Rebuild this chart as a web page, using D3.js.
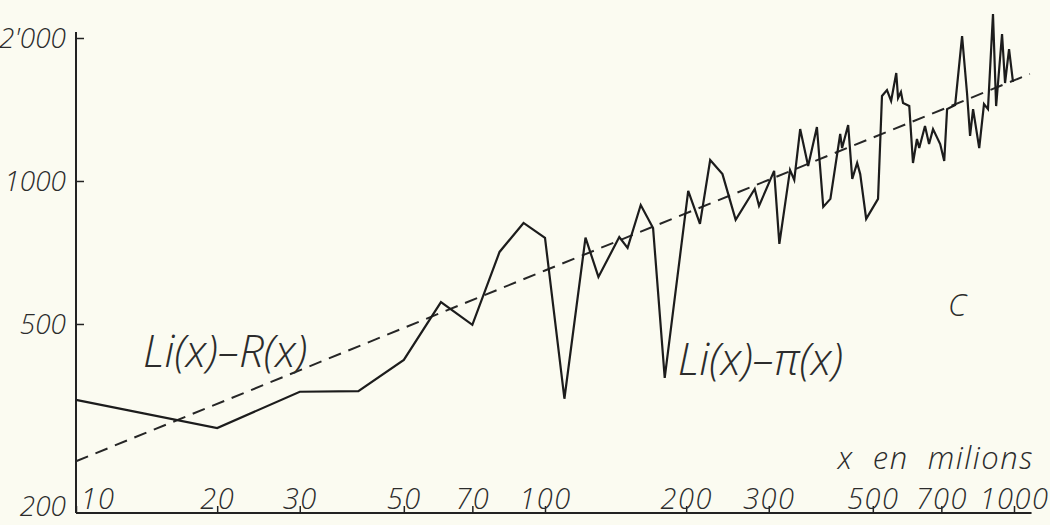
<!DOCTYPE html>
<meta charset="utf-8">
<style>
  body { margin: 0; background: #fbfbf1; }
  svg text {
    font-family: "Open Sans", "DejaVu Sans", sans-serif;
    font-style: italic;
    font-weight: 300;
    fill: #2c2c2c;
    white-space: pre;
  }
</style>

<div id="chart"></div>

<script src="https://d3js.org/d3.v7.min.js"></script>
<script>

    // Li(x) - pi(x), x in millions
    const piX = [10, 20, 30, 40, 50, 60, 70, 80, 90, 100,
                 110, 122, 130, 144, 150, 160, 170, 180, 202, 214,
                 225, 239, 255, 280, 286, 308, 316, 333, 340, 350,
                 364, 380, 392, 406, 426, 430, 443, 452, 463, 470,
                 484, 513, 523, 536, 547, 561, 566, 574, 580, 598,
                 609, 621, 628, 646, 659, 672, 696, 710, 720, 749,
                 775, 794, 806, 818, 843, 863, 880, 902, 916, 943,
                 957, 976, 995];
    const piY = [346, 302, 360, 361, 420, 556, 498, 709, 816, 759,
                 348, 760, 628, 762, 723, 890, 796, 385, 953, 812,
                 1107, 1034, 828, 962, 886, 1050, 737, 1055, 1005, 1286,
                 1075, 1299, 882, 917, 1256, 1173, 1312, 1010, 1091, 1034,
                 832, 917, 1510, 1554, 1474, 1688, 1495, 1539, 1459, 1438,
                 1091, 1226, 1173, 1305, 1196, 1286, 1196, 1102, 1417, 1445,
                 2019, 1532, 1244, 1417, 1173, 1452, 1417, 2247, 1438, 2039,
                 1608, 1896, 1616];

    // Li(x) - R(x), the dashed trend
    const rX = [10, 100, 1081];
    const rY = [257, 648, 1680];

    // axes
    const xTicks = [10, 20, 30, 50, 70, 100, 200, 300, 500, 700, 1000];
    const xTickLabels = ["10", "20", "30", "50", "70", "100", "200", "300", "500", "700", "1000"];
    const yTicks = [200, 500, 1000, 2000];
    const yTickLabels = ["200", "500", "1000", "2'000"];

    // text written on the drawing, anchored in data units
    const notes = [
        {text: "Li(x)–R(x)", x: 13.9, y: 406, cls: "big"},
        {text: "Li(x)–π(x)", x: 192, y: 390, cls: "big"},
        {text: "C", x: 723, y: 520, cls: "mid"},
        {text: "x  en  milions", x: 421, y: 247, cls: "mid"}
    ];

    const width = 1050, height = 525;

    const x = d3.scaleLog().domain([10, 1000]).range([76, 1014]);
    const y = d3.scaleLog().domain([200, 2000]).range([513, 38]);

    const svg = d3.select("#chart")
        .append("svg")
        .attr("width", width)
        .attr("height", height);

    // axis lines, a bit longer than the data range like on the drawing
    svg.append("line")
        .attr("x1", x(10)).attr("x2", x(10))
        .attr("y1", y(200)).attr("y2", y(2060))
        .attr("stroke", "#222").attr("stroke-width", 2);
    svg.append("line")
        .attr("x1", x(10)).attr("x2", x(1090))
        .attr("y1", y(200)).attr("y2", y(200))
        .attr("stroke", "#222").attr("stroke-width", 2);

    // x axis: small ticks going up into the labels
    const gx = svg.append("g")
        .attr("transform", "translate(0," + y(200) + ")")
        .call(d3.axisBottom(x)
            .tickValues(xTicks)
            .tickSize(-7)
            .tickFormat(function (d, i) { return xTickLabels[i]; }));
    gx.select(".domain").remove();
    gx.selectAll(".tick line").attr("stroke", "#222").attr("stroke-width", 1.5);
    gx.selectAll(".tick text")
        .attr("y", -4)
        .attr("dy", 0)
        .attr("font-size", 29)
        .attr("letter-spacing", 1.5)
        .attr("text-anchor", function (d) { return d === 10 ? "start" : "middle"; })
        .attr("dx", function (d) { return d === 10 ? 4 : 0; });

    // y axis: ticks pointing right, labels to the left
    const gy = svg.append("g")
        .attr("transform", "translate(" + x(10) + ",0)")
        .call(d3.axisLeft(y)
            .tickValues(yTicks)
            .tickSize(-8)
            .tickFormat(function (d, i) { return yTickLabels[i]; }));
    gy.select(".domain").remove();
    gy.selectAll(".tick line")
        .attr("stroke", "#222").attr("stroke-width", 1.5)
        .attr("opacity", function (d) { return d === 200 ? 0 : 1; });
    gy.selectAll(".tick text")
        .attr("x", -10)
        .attr("dy", function (d) { return d === 200 ? "0.1em" : "0.35em"; })
        .attr("font-size", 28);

    // dashed Li(x) - R(x)
    const line = d3.line()
        .x(function (d) { return x(d[0]); })
        .y(function (d) { return y(d[1]); });

    svg.append("path")
        .datum(d3.zip(rX, rY))
        .attr("d", line)
        .attr("fill", "none")
        .attr("stroke", "#262626")
        .attr("stroke-width", 2)
        .attr("stroke-dasharray", "13,8");

    // Li(x) - pi(x)
    svg.append("path")
        .datum(d3.zip(piX, piY))
        .attr("d", line)
        .attr("fill", "none")
        .attr("stroke", "#1c1c1c")
        .attr("stroke-width", 2.2)
        .attr("stroke-linejoin", "miter");

    svg.selectAll(".note")
        .data(notes)
        .enter()
        .append("text")
        .attr("class", "note")
        .attr("x", function (d) { return x(d.x); })
        .attr("y", function (d) { return y(d.y); })
        .attr("font-size", function (d) { return d.cls === "big" ? 44 : 31; })
        .attr("letter-spacing", function (d) { return d.cls === "big" ? 0 : 1.5; })
        .text(function (d) { return d.text; });

</script>
